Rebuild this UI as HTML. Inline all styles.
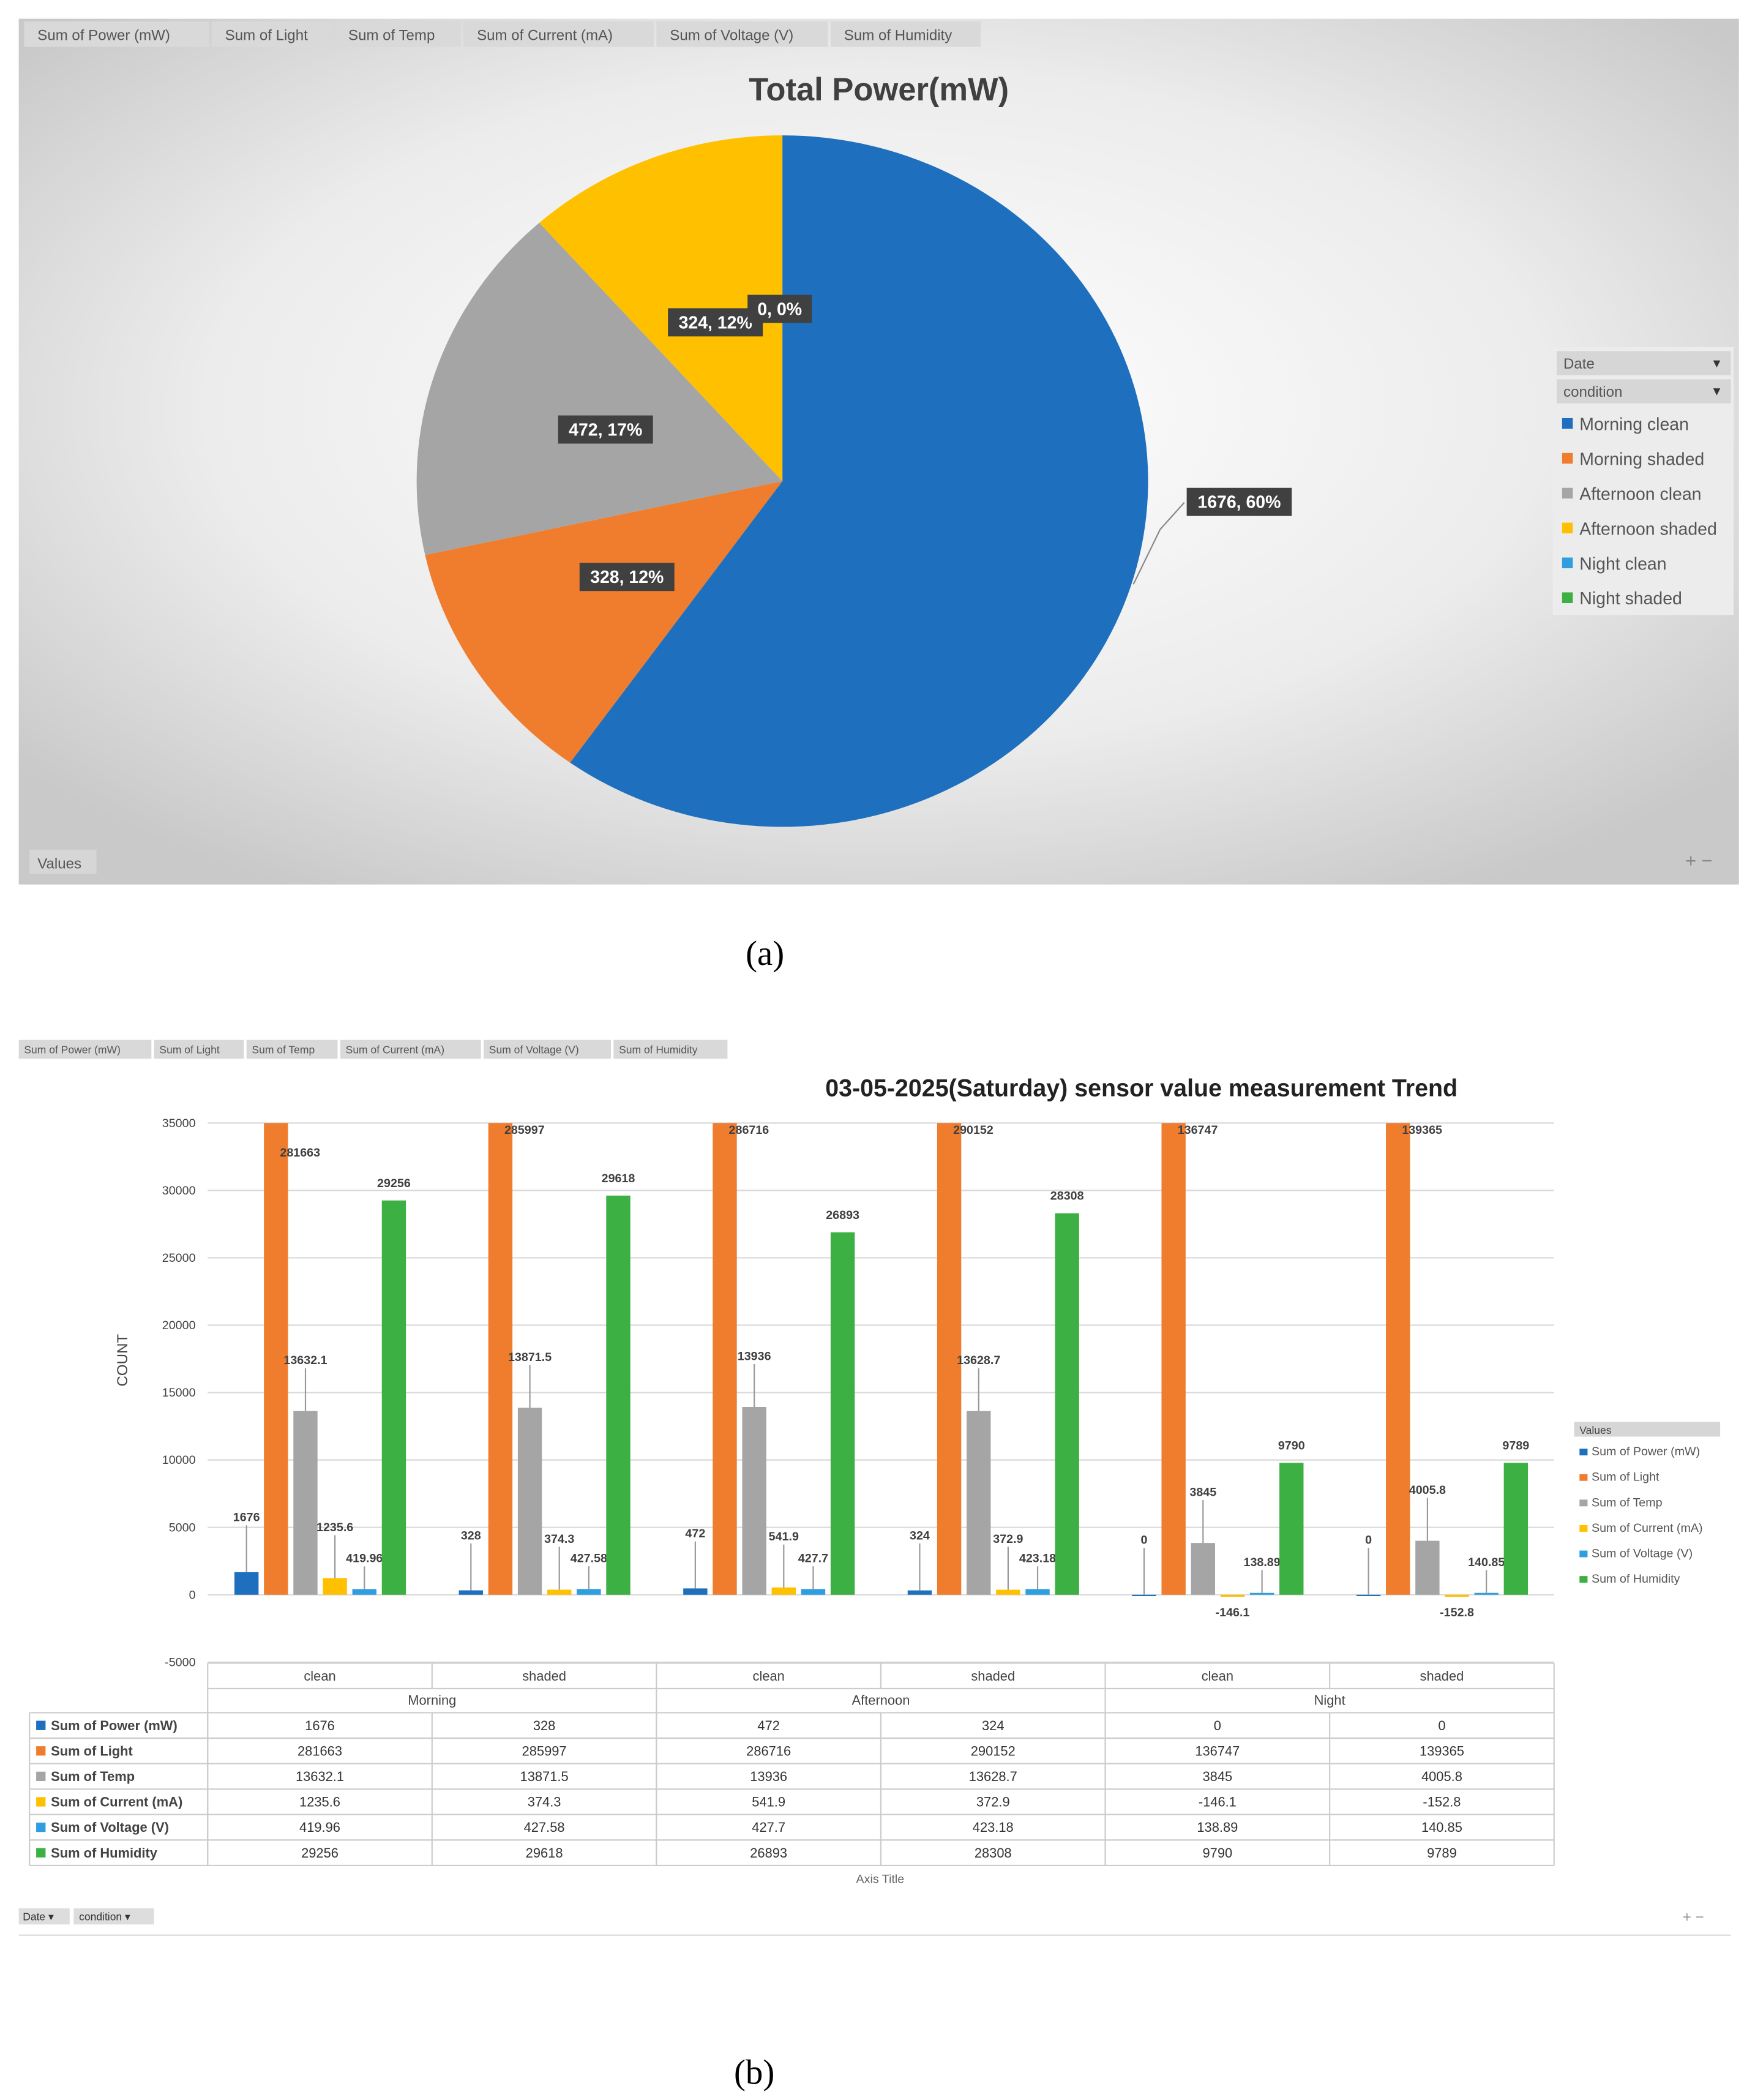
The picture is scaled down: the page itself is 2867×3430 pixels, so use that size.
<!DOCTYPE html>
<html><head><meta charset="utf-8"><style>
html,body{margin:0;padding:0;background:#fff;}
svg{display:block;font-family:"Liberation Sans",sans-serif;}
</style></head><body>
<svg id="s" width="2867" height="3430" viewBox="0 0 1310 1567" preserveAspectRatio="none" xmlns="http://www.w3.org/2000/svg">
<defs>
<radialGradient id="bg" cx="50%" cy="45%" r="65%">
<stop offset="0" stop-color="#ffffff"/><stop offset="0.6" stop-color="#ececec"/><stop offset="1" stop-color="#c9c9c9"/>
</radialGradient>
</defs>
<rect x="14" y="14" width="1284" height="646" fill="url(#bg)"/>
<g id="tabsA"></g>
<text x="656" y="75" text-anchor="middle" font-size="24" font-weight="bold" fill="#404040">Total Power(mW)</text>
<g id="pie"></g>
<g id="legA"></g>
<rect x="22" y="634" width="50" height="18" fill="#d6d6d6"/>
<text x="28" y="648" font-size="11" fill="#555">Values</text>
<text x="1258" y="647" font-size="14" fill="#888">+ −</text>
<text x="571" y="720" text-anchor="middle" font-size="26" font-family="Liberation Serif,serif">(a)</text>

<g id="tabsB"></g>
<text x="852" y="818" text-anchor="middle" font-size="18" font-weight="bold" fill="#222">03-05-2025(Saturday) sensor value measurement Trend</text>
<text transform="translate(95,1015) rotate(-90)" text-anchor="middle" font-size="11" fill="#444">COUNT</text>
<g id="grid"></g>
<g id="bars"></g>
<g id="table"></g>
<g id="legB"></g>
<text x="657" y="1405" text-anchor="middle" font-size="9" fill="#666">Axis Title</text>
<rect x="14" y="1424" width="38" height="12" fill="#ddd"/>
<text x="17" y="1433" font-size="8" fill="#333">Date ▾</text>
<rect x="55" y="1424" width="60" height="12" fill="#ddd"/>
<text x="59" y="1433" font-size="8" fill="#333">condition ▾</text>
<text x="1256" y="1434" font-size="11" fill="#999">+ −</text>
<line x1="14" y1="1444" x2="1292" y2="1444" stroke="#ddd"/>
<text x="563" y="1555" text-anchor="middle" font-size="26" font-family="Liberation Serif,serif">(b)</text>
</svg>
<script>
const pieLabels=["Morning clean","Morning shaded","Afternoon clean","Afternoon shaded","Night clean","Night shaded"];
const pieValues=[1676,328,472,324,0,0];
const seriesNames=["Sum of Power (mW)","Sum of Light","Sum of Temp","Sum of Current (mA)","Sum of Voltage (V)","Sum of Humidity"];
const periods=["Morning","Afternoon","Night"];
const conditions=["clean","shaded","clean","shaded","clean","shaded"];
const power=[1676,328,472,324,0,0];
const light=[281663,285997,286716,290152,136747,139365];
const temp=[13632.1,13871.5,13936,13628.7,3845,4005.8];
const current=[1235.6,374.3,541.9,372.9,-146.1,-152.8];
const voltage=[419.96,427.58,427.7,423.18,138.89,140.85];
const humidity=[29256,29618,26893,28308,9790,9789];
const yTicks=[-5000,0,5000,10000,15000,20000,25000,30000,35000];
const colors=["#1f6fbf","#f07d2e","#a5a5a5","#ffc000","#2e9ee0","#3cb043"];
const NS="http://www.w3.org/2000/svg";
function mk(t,a,p,txt){const e=document.createElementNS(NS,t);for(const k in a)e.setAttribute(k,a[k]);if(txt!==undefined)e.textContent=txt;p.appendChild(e);return e;}
const $=id=>document.getElementById(id);

// tabs
const tabA=["Sum of Power (mW)","Sum of Light","Sum of Temp","Sum of Current (mA)","Sum of Voltage (V)","Sum of Humidity"];
const tabAx=[18,158,250,346,490,620],tabAw=[138,90,94,142,128,112];
tabA.forEach((t,i)=>{const r=mk('rect',{x:tabAx[i],y:16,width:tabAw[i],height:19,fill:'#d9d9d9'},$('tabsA'));


mk('text',{x:tabAx[i]+10,y:30,'font-size':11,fill:'#555'},$('tabsA'),t);});
const tabBx=[14,115,184,254,361,458],tabBw=[99,67,68,105,95,85];
tabA.forEach((t,i)=>{const r=mk('rect',{x:tabBx[i],y:776,width:tabBw[i],height:14,fill:'#d9d9d9'},$('tabsB'));


mk('text',{x:tabBx[i]+4,y:786,'font-size':8,fill:'#555'},$('tabsB'),t);});

// pie
const cx=584,cy=359,rx=273,ry=258;
const tot=pieValues.reduce((a,b)=>a+b,0);
let ang=0;
const pieCols=["#1f6fbf","#f07d2e","#a5a5a5","#ffc000","#2e9ee0","#3cb043"];
const lblPos=[[925,375],[468,431],[452,321],[534,241],[582,231],[582,231]];
pieValues.forEach((v,i)=>{const a0=ang,a1=ang+v/tot*2*Math.PI;ang=a1;
 if(v>0){const p=(a)=>[cx+rx*Math.sin(a),cy-ry*Math.cos(a)];const s=p(a0),e=p(a1);
 const sl=mk('path',{d:`M${cx},${cy}L${s[0]},${s[1]}A${rx},${ry} 0 ${a1-a0>Math.PI?1:0} 1 ${e[0]},${e[1]}Z`,fill:pieCols[i]},$('pie'));
 
 }
 if(i<5){const t=v+", "+Math.round(v/tot*100)+"%";const [lx,ly]=lblPos[i];const w=t.length*7.6+10;
 mk('rect',{x:lx-w/2,y:ly-11,width:w,height:21,fill:'#404040'},$('pie'));
 const tx=mk('text',{x:lx,y:ly+4,'text-anchor':'middle','font-size':13,'font-weight':'bold',fill:'#fff'},$('pie'),t);
 
 }
});
mk('polyline',{points:'884,375 866,395 846,436',fill:'none',stroke:'#888'},$('pie'));
// legend A
mk('rect',{x:1159,y:259,width:135,height:200,fill:'#ececec'},$('legA'));
[["Date",262],["condition",283]].forEach(([t,y])=>{const r=mk('rect',{x:1162,y:y,width:130,height:18,fill:'#d6d6d6'},$('legA'));


mk('text',{x:1167,y:y+13,'font-size':11,fill:'#555'},$('legA'),t);mk('text',{x:1277,y:y+12,'font-size':9,fill:'#333'},$('legA'),'▼');});
pieLabels.forEach((l,i)=>{const y=316+i*26;const g=mk('g',{},$('legA'));


mk('rect',{x:1166,y:y-4,width:8,height:8,fill:pieCols[i]},g);mk('text',{x:1179,y:y+5,'font-size':13,fill:'#555'},g,l);});

// bar chart
const x0=155,x1=1160,y0v=1190,pxPer=(1190-838)/35000;
const Y=v=>y0v-Math.max(Math.min(v,35000),-5000)*pxPer;
yTicks.forEach(t=>{mk('line',{x1:x0,x2:x1,y1:Y(t),y2:Y(t),stroke:'#d9d9d9'},$('grid'));
const tt=mk('text',{x:146,y:Y(t)+3,'text-anchor':'end','font-size':9,fill:'#444'},$('grid'),t);

});
const series=[power,light,temp,current,voltage,humidity];
const gw=(x1-x0)/conditions.length;
series.forEach((arr,s)=>{arr.forEach((v,c)=>{const bx=x0+c*gw+20+s*22;const yt=Y(v),yb=Y(0);
 const b=mk('rect',{x:bx,y:Math.min(yt,yb),width:18,height:Math.max(Math.abs(yb-yt),1),fill:colors[s]},$('bars'));
 
 
 let ly=s===1?Y(v)+25:(v<0?Y(0)+16:Math.min(yt,yb)-(s===2||s===3?35:s===4?20:s===0?38:10));
 if(s===1&&c>0)ly=Y(v)+8;
 if(s!==1&&s!==5&&v>=0&&s!==2)mk('line',{x1:bx+9,x2:bx+9,y1:ly+3,y2:Math.min(yt,yb),stroke:'#999'},$('bars'));
 if(s===2)mk('line',{x1:bx+9,x2:bx+9,y1:ly+3,y2:yt,stroke:'#999'},$('bars'));
 const tx=mk('text',{x:bx+(s===1?27:9),y:ly,'text-anchor':'middle','font-size':9,'font-weight':'bold',fill:'#404040'},$('bars'),v);
 
 
});});
// table
const T=$('table');
mk('line',{x1:x0,x2:x1,y1:1241,y2:1241,stroke:'#ccc'},T);
conditions.forEach((c,i)=>{const cxm=x0+(i+0.5)*gw;mk('text',{x:cxm,y:1254,'text-anchor':'middle','font-size':10,fill:'#444'},T,c);
 mk('line',{x1:x0+(i)*gw,x2:x0+i*gw,y1:1241,y2:i%2?1260:1392,stroke:'#ccc'},T);});
mk('line',{x1:x1,x2:x1,y1:1241,y2:1392,stroke:'#ccc'},T);
mk('line',{x1:22,x2:22,y1:1278,y2:1392,stroke:'#ccc'},T);
mk('line',{x1:x0,x2:x1,y1:1260,y2:1260,stroke:'#ccc'},T);
periods.forEach((p,i)=>mk('text',{x:x0+(i+1)*2*gw-gw,y:1272,'text-anchor':'middle','font-size':10,fill:'#444'},T,p));
seriesNames.forEach((n,r)=>{const y=1278+r*19;mk('line',{x1:22,x2:x1,y1:y,y2:y,stroke:'#ccc'},T);
 mk('rect',{x:27,y:y+6,width:7,height:7,fill:colors[r]},T);
 const nt=mk('text',{x:38,y:y+13,'font-size':10,'font-weight':'bold',fill:'#444'},T,n);
 
 
 series[r].forEach((v,c)=>{for(let k=1;k<6;k++);mk('text',{x:x0+(c+0.5)*gw,y:y+13,'text-anchor':'middle','font-size':10,fill:'#333'},T,v);
 mk('line',{x1:x0+c*gw,x2:x0+c*gw,y1:y,y2:y+19,stroke:'#ccc'},T);});});
mk('line',{x1:22,x2:x1,y1:1392,y2:1392,stroke:'#ccc'},T);
// legend B
const L=$('legB');
mk('rect',{x:1175,y:1061,width:109,height:11,fill:'#d6d6d6'},L);
mk('text',{x:1179,y:1070,'font-size':8,fill:'#444'},L,'Values');
seriesNames.forEach((n,i)=>{const y=1083+i*19;const g=mk('g',{},L);


mk('rect',{x:1179,y:y-2,width:6,height:5,fill:colors[i]},g);mk('text',{x:1188,y:y+3,'font-size':9,fill:'#555'},g,n);});
</script>
</body></html>
